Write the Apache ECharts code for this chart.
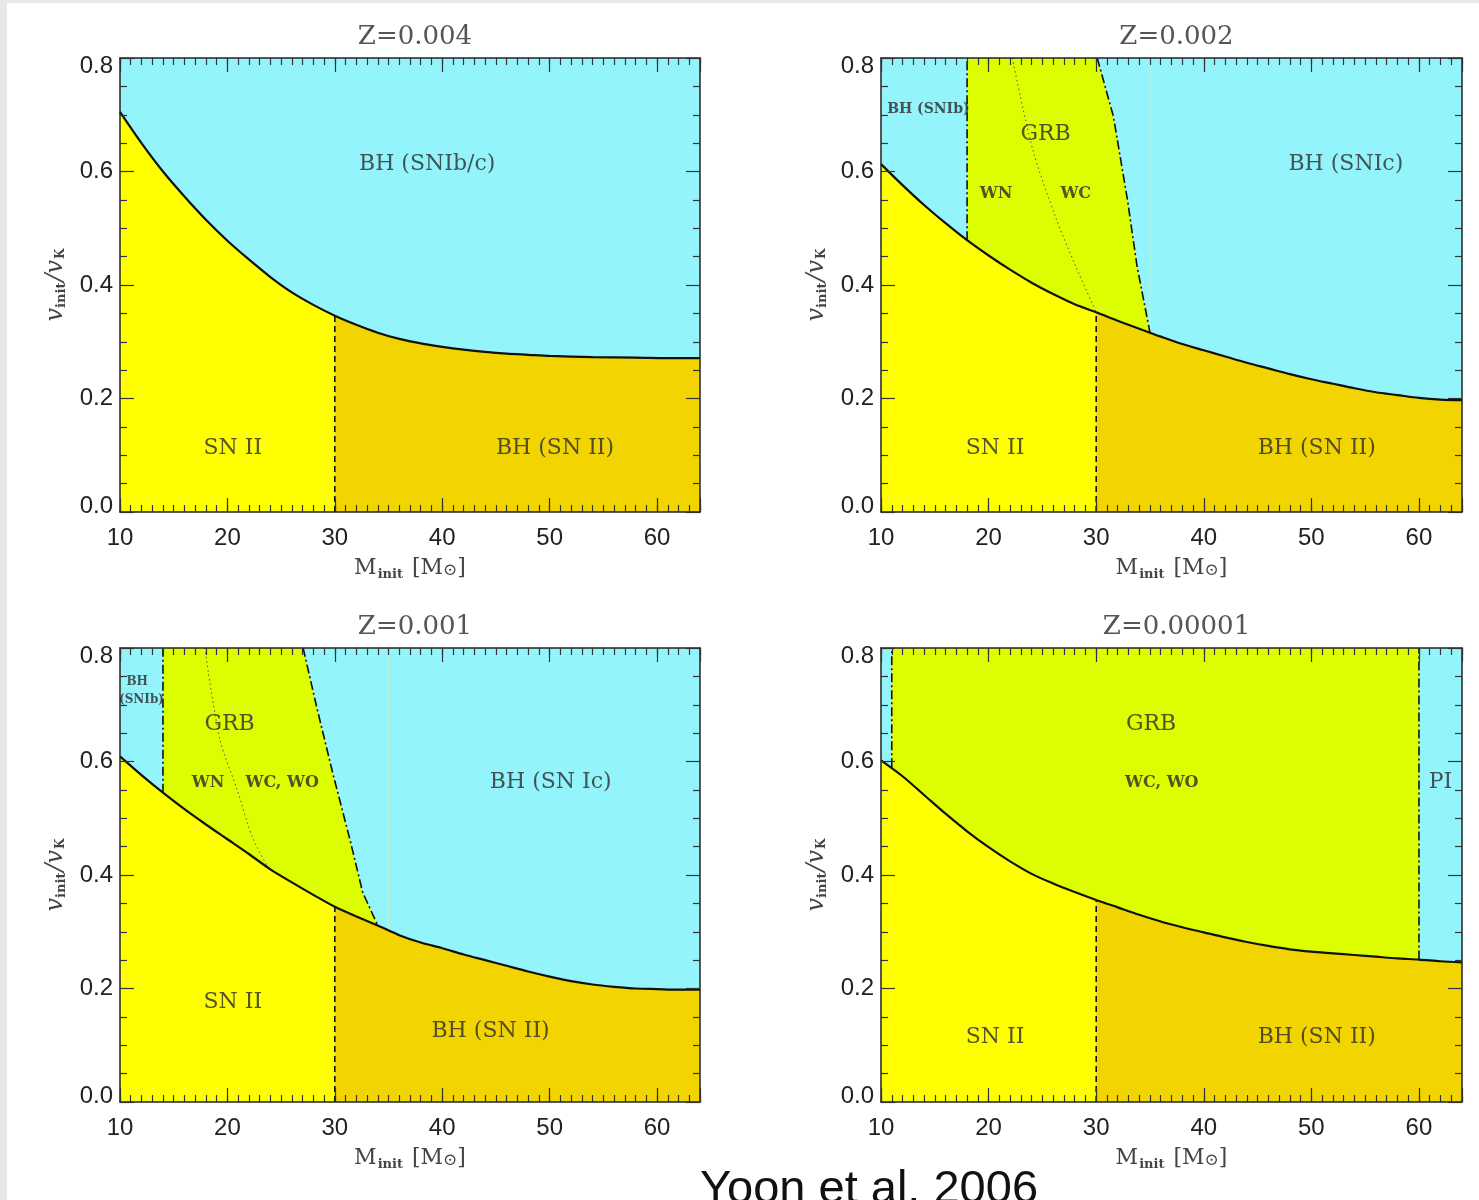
<!DOCTYPE html>
<html><head><meta charset="utf-8">
<script src="https://cdn.jsdelivr.net/npm/echarts/dist/echarts.min.js"></script>
<style>
html,body{margin:0;padding:0;background:#fff;}
#edgeL{position:absolute;left:0;top:0;width:7px;height:1200px;background:#e8e8e8;}
#edgeT{position:absolute;left:0;top:0;width:1479px;height:3px;background:#e8e8e8;}
#chart{position:absolute;left:0;top:0;width:1479px;height:1200px;}
</style></head><body>
<div id="edgeL"></div><div id="edgeT"></div><div id="chart"></div>
<script>
// ---------------- data ----------------
const titles = ['Z=0.004', 'Z=0.002', 'Z=0.001', 'Z=0.00001'];
const xTickLabels = [10, 20, 30, 40, 50, 60];
const yTickLabels = [0.0, 0.2, 0.4, 0.6, 0.8];
const massRange = [10, 64];
const velRange = [0, 0.8];
const snSplitMass = 30;

// boundary curves (M_init, v_init/v_K)
const curveZ004 = [[10,0.705],[12,0.650],[14,0.600],[16,0.556],[18,0.515],[20,0.478],[22,0.445],[24,0.414],[26,0.387],[28,0.365],[30,0.346],[32,0.330],[34,0.316],[36,0.305],[38,0.297],[40,0.291],[42,0.286],[44,0.282],[46,0.279],[48,0.277],[50,0.275],[54,0.273],[58,0.272],[62,0.271],[64,0.271]];
const curveZ002 = [[10,0.613],[12,0.576],[14,0.541],[16,0.509],[18,0.479],[20,0.452],[22,0.427],[24,0.404],[26,0.384],[28,0.366],[30,0.352],[32,0.337],[34,0.323],[35,0.316],[36,0.309],[38,0.296],[40,0.285],[42,0.274],[44,0.263],[46,0.253],[48,0.243],[50,0.234],[52,0.226],[54,0.218],[56,0.211],[58,0.206],[60,0.201],[62,0.198],[64,0.197]];
const curveZ001 = [[10,0.609],[12,0.576],[14,0.545],[16,0.516],[18,0.489],[20,0.463],[22,0.437],[24,0.410],[26,0.387],[28,0.365],[30,0.344],[32,0.327],[34,0.311],[36,0.294],[38,0.281],[40,0.271],[42,0.260],[44,0.250],[46,0.240],[48,0.230],[50,0.221],[52,0.213],[54,0.207],[56,0.203],[58,0.200],[60,0.199],[62,0.198],[64,0.198]];
const curveZ00001 = [[10,0.602],[12,0.574],[14,0.541],[16,0.508],[18,0.477],[20,0.449],[22,0.424],[24,0.402],[26,0.385],[28,0.370],[30,0.356],[32,0.343],[34,0.330],[36,0.318],[38,0.308],[40,0.299],[42,0.290],[44,0.282],[46,0.275],[48,0.269],[50,0.265],[52,0.262],[54,0.259],[56,0.256],[58,0.253],[60,0.251],[62,0.248],[64,0.246]];

// GRB regions (upper outline; filled down, then covered below the boundary curve)
const grbZ002 = [[18,0.8],[30.1,0.8],[31.6,0.697],[32.9,0.551],[33.8,0.433],[35.0,0.316]];
const grbZ001 = [[14,0.8],[27.05,0.8],[28.3,0.697],[29.8,0.58],[31.4,0.463],[32.6,0.369],[34.0,0.311]];
const grbZ00001 = [[11,0.8],[60,0.8]];

// dash-dot borders
const dashDotZ002 = [ [[18,0.479],[18,0.8]], [[30.1,0.8],[31.6,0.697],[32.9,0.551],[33.8,0.433],[35.0,0.316]] ];
const dashDotZ001 = [ [[14,0.545],[14,0.8]], [[27.05,0.8],[28.3,0.697],[29.8,0.58],[31.4,0.463],[32.6,0.369],[34.0,0.311]] ];
const dashDotZ00001 = [ [[11,0.59],[11,0.8]], [[60,0.251],[60,0.8]] ];

// dotted WN / WC border
const dottedZ002 = [[22.2,0.8],[24.1,0.639],[26.2,0.521],[28.1,0.433],[30,0.352]];
const dottedZ001 = [[17.9,0.8],[19.3,0.639],[20.9,0.551],[22.4,0.463],[23.9,0.41]];

// faint line at 35 Msun
const faintZ002 = [[35,0.316],[35,0.8]];
const faintZ001 = [[35,0.302],[35,0.8]];

// region labels [mass, v, text, size class]
const labelsZ004 = [[38.6,0.612,'BH (SNIb/c)','big'],[20.5,0.112,'SN II','big'],[50.5,0.112,'BH (SN II)','big']];
const labelsZ002 = [[14.4,0.709,'BH (SNIb)','small'],[25.3,0.665,'GRB','big'],[20.7,0.561,'WN','mid'],[28.1,0.561,'WC','mid'],[53.2,0.612,'BH (SNIc)','big'],[20.6,0.112,'SN II','big'],[50.5,0.112,'BH (SN II)','big']];
const labelsZ001 = [[11.6,0.741,'BH','tiny'],[12.0,0.709,'(SNIb)','tiny'],[20.2,0.665,'GRB','big'],[18.2,0.563,'WN','mid'],[25.1,0.563,'WC, WO','mid'],[50.1,0.563,'BH (SN Ic)','big'],[20.5,0.175,'SN II','big'],[44.5,0.124,'BH (SN II)','big']];
const labelsZ00001 = [[35.1,0.665,'GRB','big'],[36.1,0.563,'WC, WO','mid'],[62.0,0.563,'PI','big'],[20.6,0.114,'SN II','big'],[50.5,0.114,'BH (SN II)','big']];

const citation = 'Yoon et al. 2006';

// ---------------- styling ----------------
const COL = {cyan:'#94f4fc', yellow:'#ffff00', gold:'#f2d500', lime:'#dcfe00', line:'#111', text:'#2b2b2b'};
const SIZES = {big:22, mid:16, small:14, tiny:12};
const grids = [
  {left:120, top:58, width:580, height:454},
  {left:881, top:58, width:581, height:454},
  {left:120, top:648, width:580, height:454},
  {left:881, top:648, width:581, height:454}
];
const panels = [
  {curve:curveZ004, grb:null, dashDot:[], dotted:null, faint:null, labels:labelsZ004},
  {curve:curveZ002, grb:grbZ002, dashDot:dashDotZ002, dotted:dottedZ002, faint:faintZ002, labels:labelsZ002},
  {curve:curveZ001, grb:grbZ001, dashDot:dashDotZ001, dotted:dottedZ001, faint:faintZ001, labels:labelsZ001},
  {curve:curveZ00001, grb:grbZ00001, dashDot:dashDotZ00001, dotted:null, faint:null, labels:labelsZ00001}
];

const serif = 'DejaVu Serif';
const sans = 'Liberation Sans';
const axisLineStyle = {color:'#222', width:1.5};
const tickStyle = {color:'#333', width:1.2};
const noLine = {show:false, onZero:false};
const SMOOTH = 0.3;

const xAxes = [], yAxes = [], series = [], titleList = [];
grids.forEach((g, gi) => {
  const xc = {type:'value', gridIndex:gi, min:massRange[0], max:massRange[1], z:10, splitLine:{show:false}, axisPointer:{show:false}};
  xAxes.push(Object.assign({}, xc, {position:'bottom', interval:10,
    axisLine:{show:true, onZero:false, lineStyle:axisLineStyle},
    axisTick:{show:true, inside:true, length:14, lineStyle:tickStyle},
    axisLabel:{show:true, margin:14, fontSize:24, fontFamily:sans, color:'#222',
      formatter: v => xTickLabels.indexOf(v) >= 0 ? String(v) : ''},
    name:'{m|M}{s|init}{m| [M}{o|⊙}{m|]}', nameLocation:'middle', nameGap:44,
    nameTextStyle:{color:'#444', rich:{
      m:{fontFamily:serif, fontSize:22, color:'#444'},
      s:{fontFamily:serif, fontSize:13, fontWeight:'bold', color:'#444', padding:[12,2,0,1]},
      o:{fontFamily:serif, fontSize:17, color:'#444', padding:[5,0,0,0]}}}
  }));
  xAxes.push(Object.assign({}, xc, {position:'bottom', interval:1, axisLine:noLine,
    axisTick:{show:true, inside:true, length:7, lineStyle:tickStyle}, axisLabel:{show:false}}));
  xAxes.push(Object.assign({}, xc, {position:'top', interval:10,
    axisLine:{show:true, onZero:false, lineStyle:axisLineStyle},
    axisTick:{show:true, inside:true, length:14, lineStyle:tickStyle}, axisLabel:{show:false}}));
  xAxes.push(Object.assign({}, xc, {position:'top', interval:1, axisLine:noLine,
    axisTick:{show:true, inside:true, length:7, lineStyle:tickStyle}, axisLabel:{show:false}}));

  const yc = {type:'value', gridIndex:gi, min:velRange[0], max:velRange[1], interval:0.2, z:10,
    splitLine:{show:false}, axisPointer:{show:false},
    axisTick:{show:true, inside:true, length:14, lineStyle:tickStyle},
    minorTick:{show:true, splitNumber:4, length:7, lineStyle:tickStyle}};
  yAxes.push(Object.assign({}, yc, {position:'left',
    axisLine:{show:true, onZero:false, lineStyle:axisLineStyle},
    axisLabel:{show:true, margin:7, fontSize:24, fontFamily:sans, color:'#222',
      formatter: v => {
        const t = yTickLabels.find(y => Math.abs(y - v) < 1e-6);
        if (t === undefined) return '';
        const s = t.toFixed(1);
        if (t === velRange[0]) return '{lo|' + s + '}';
        if (t === velRange[1]) return '{hi|' + s + '}';
        return s;
      },
      rich:{
        lo:{fontSize:24, fontFamily:sans, color:'#222', padding:[0,0,12,0]},
        hi:{fontSize:24, fontFamily:sans, color:'#222', padding:[16,0,0,0]}}},
    name:'{v|v}{s|init}{v|/v}{k|K}', nameLocation:'middle', nameGap:52, nameRotate:90,
    nameTextStyle:{rich:{
      v:{fontFamily:serif, fontStyle:'italic', fontSize:24, color:'#444'},
      s:{fontFamily:serif, fontSize:13, fontWeight:'bold', color:'#444', padding:[12,1,0,0]},
      k:{fontFamily:serif, fontSize:12, fontWeight:'bold', color:'#444', padding:[10,0,0,1]}}}
  }));
  yAxes.push(Object.assign({}, yc, {position:'right',
    axisLine:{show:true, onZero:false, lineStyle:axisLineStyle}, axisLabel:{show:false}}));

  titleList.push({text:titles[gi], left:g.left + g.width/2, top:g.top - 39, textAlign:'center',
    textStyle:{fontFamily:serif, fontSize:26, fontWeight:'normal', color:'#555'}});

  const p = panels[gi];
  const ax = {xAxisIndex:gi*4, yAxisIndex:gi*2};
  const areaSeries = (data, color, smooth) => Object.assign({type:'line', data,
    smooth:smooth ? SMOOTH : false,
    symbol:'none', lineStyle:{width:0}, areaStyle:{color, opacity:1, origin:'start'}, silent:true, z:2}, ax);
  const lineSeries = (data, color, width, type, smooth, z) => Object.assign({type:'line', data,
    smooth:smooth ? SMOOTH : false,
    symbol:'none', lineStyle:{color, width, type}, silent:true, z:z || 4}, ax);

  series.push(areaSeries([[massRange[0], velRange[1]], [massRange[1], velRange[1]]], COL.cyan, false));
  if (p.grb) series.push(areaSeries(p.grb, COL.lime, false));
  series.push(areaSeries(p.curve, COL.gold, true));
  series.push(areaSeries(p.curve.filter(d => d[0] <= snSplitMass), COL.yellow, true));
  if (p.faint) series.push(lineSeries(p.faint, '#bff3cf', 1, 'solid', false, 3));
  if (p.dotted) series.push(lineSeries(p.dotted, '#555', 1, [1.5, 3], true, 4));
  p.dashDot.forEach(d => series.push(lineSeries(d, '#111', 1.6, [9, 3, 2, 3], false, 4)));
  const split = p.curve.find(d => d[0] === snSplitMass);
  series.push(lineSeries([[snSplitMass, 0], [snSplitMass, split[1]]], '#111', 1.6, [6, 4], false, 4));
  series.push(lineSeries(p.curve, COL.line, 2.2, 'solid', true, 5));
  series.push(Object.assign({type:'scatter', symbol:'circle', symbolSize:1, itemStyle:{color:'rgba(0,0,0,0)'},
    silent:true, z:6,
    data: p.labels.map(l => ({name:l[2], value:[l[0], l[1]],
      label:{show:true, position:'inside', formatter:'{b}', fontFamily:serif, fontSize:SIZES[l[3]],
        fontWeight: l[3] === 'big' ? 'normal' : 'bold', color:COL.text}}))}, ax));
});

const chart = echarts.init(document.getElementById('chart'), null, {renderer:'canvas'});
chart.setOption({
  animation:false,
  backgroundColor:'transparent',
  title:titleList,
  grid:grids.map(g => Object.assign({containLabel:false, outerBoundsMode:'none'}, g)),
  xAxis:xAxes,
  yAxis:yAxes,
  series:series,
  graphic:[{type:'text', left:700, top:1167, style:{text:citation, font:'47px "Liberation Sans"', fill:'#111'}}]
});
</script>
</body></html>
